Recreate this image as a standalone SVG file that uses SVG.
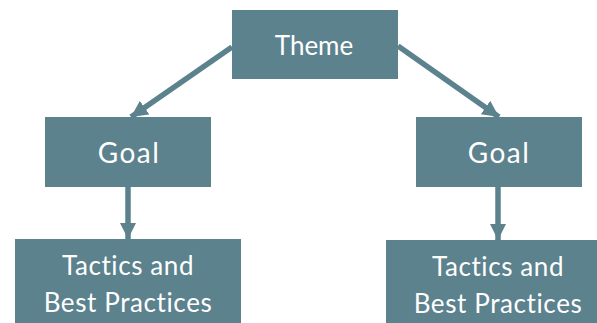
<svg xmlns="http://www.w3.org/2000/svg" width="597" height="323" viewBox="0 0 597 323">
  <style>
    .box { fill: #5B828D; }
    .label { fill: #FFFFFF; font-family: Lato, "Noto Sans", sans-serif; text-anchor: middle; }
    .big { font-size: 26px; }
    .goal { font-size: 28px; letter-spacing: 1.5px; }
    .mid { font-size: 26px; letter-spacing: 0.6px; }
    .link { stroke: #5B828D; stroke-width: 5.5; fill: none; }
  </style>
  <defs>
    <marker id="arrow" viewBox="0 0 10 10" refX="10" refY="5" markerWidth="3" markerHeight="3" markerUnits="strokeWidth" orient="auto">
      <path d="M0,0 L10,5 L0,10 Z" fill="#5B828D"/>
    </marker>
  </defs>
  <rect width="597" height="323" fill="#FFFFFF"/>

  <g id="connectors">
    <line class="link" x1="232" y1="47" x2="131" y2="117" marker-end="url(#arrow)"/>
    <line class="link" x1="398" y1="46" x2="499" y2="117" marker-end="url(#arrow)"/>
    <line class="link" x1="128" y1="187" x2="128" y2="239" marker-end="url(#arrow)"/>
    <line class="link" x1="498" y1="187" x2="498" y2="240" marker-end="url(#arrow)"/>
  </g>

  <g id="theme">
    <rect class="box" x="232" y="10" width="166" height="69"/>
    <text class="label big" x="314" y="55">Theme</text>
  </g>

  <g id="goal-left">
    <rect class="box" x="45" y="117" width="166" height="70"/>
    <text class="label goal" x="129" y="163">Goal</text>
  </g>

  <g id="goal-right">
    <rect class="box" x="416" y="117" width="166" height="70"/>
    <text class="label goal" x="499" y="163">Goal</text>
  </g>

  <g id="tactics-left">
    <rect class="box" x="15" y="239" width="226" height="90"/>
    <text class="label mid" x="128" y="275">Tactics and</text>
    <text class="label mid" x="128" y="312">Best Practices</text>
  </g>

  <g id="tactics-right">
    <rect class="box" x="386" y="240" width="211" height="90"/>
    <text class="label mid" x="498" y="276">Tactics and</text>
    <text class="label mid" x="498" y="313">Best Practices</text>
  </g>
</svg>
